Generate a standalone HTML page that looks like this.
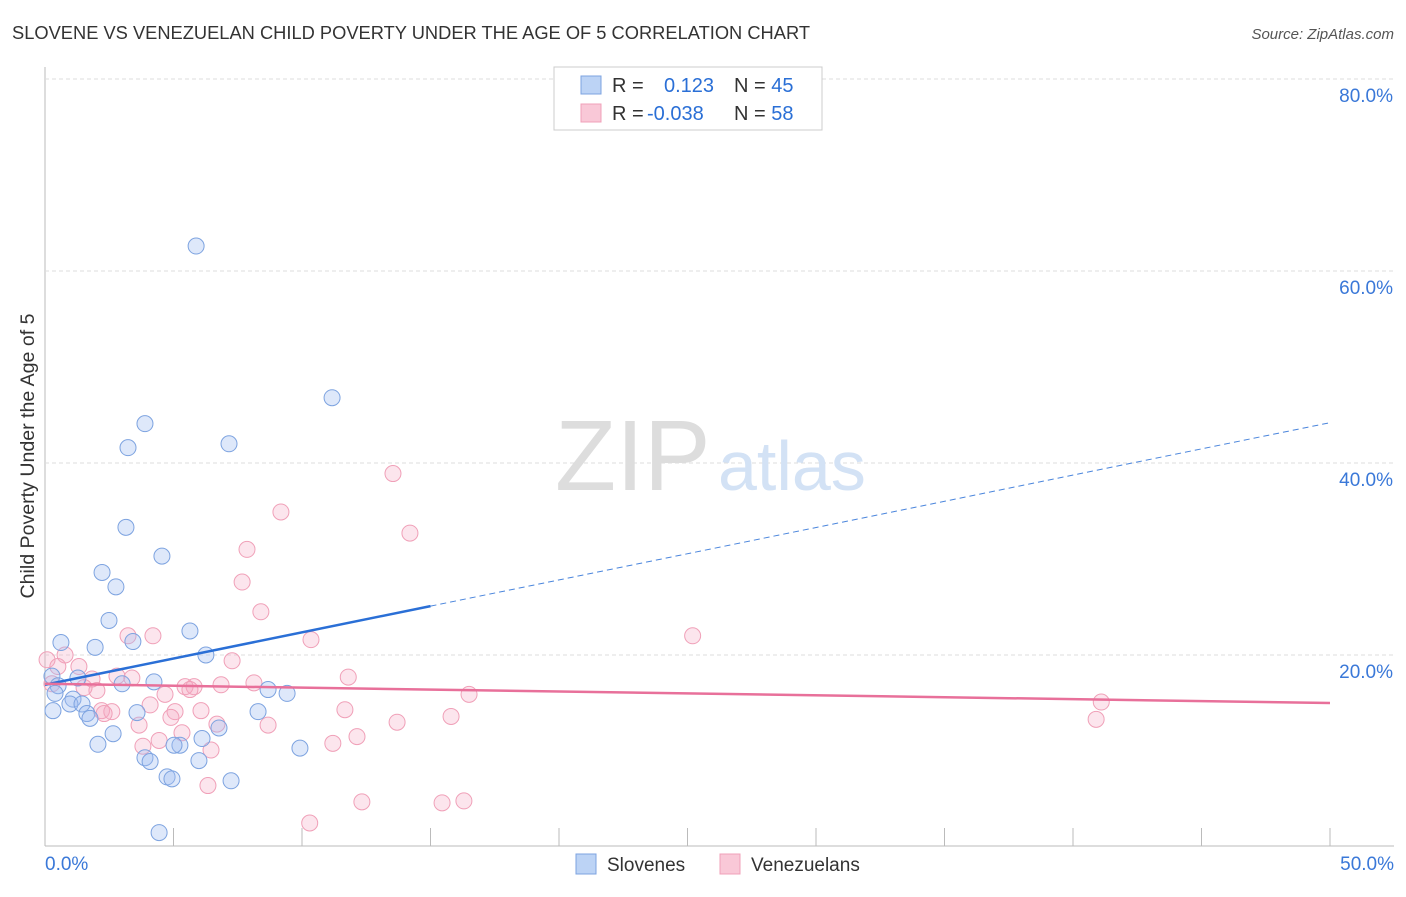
<!DOCTYPE html>
<html><head><meta charset="utf-8"><style>
body{margin:0;background:#fff;font-family:"Liberation Sans",sans-serif;}
svg text{font-family:"Liberation Sans",sans-serif;}
</style></head><body>
<svg id="c" width="1406" height="892" xmlns="http://www.w3.org/2000/svg">
<text x="12" y="39" font-size="18" fill="#333" textLength="798" lengthAdjust="spacingAndGlyphs">SLOVENE VS VENEZUELAN CHILD POVERTY UNDER THE AGE OF 5 CORRELATION CHART</text>
<text x="1394" y="39" font-size="15" fill="#555" text-anchor="end" font-style="italic">Source: ZipAtlas.com</text>
<text transform="translate(34,456) rotate(-90)" font-size="19" fill="#333" text-anchor="middle" textLength="285" lengthAdjust="spacingAndGlyphs">Child Poverty Under the Age of 5</text>
<g id="grid"></g>
<text x="555" y="490" font-size="100" fill="#ddd" font-family="Liberation Serif">ZIP</text>
<text x="718" y="490" font-size="70" fill="#d3e2f5">atlas</text>
<g id="pts"></g>
<g id="lines"></g>
<g>
<rect x="554" y="67" width="268" height="63" fill="#fff" stroke="#ccc"/>
<rect x="581" y="76" width="20" height="18" fill="#bcd3f5" stroke="#7da3e0"/>
<rect x="581" y="104" width="20" height="18" fill="#f9c8d7" stroke="#f0a0b8"/>
<text x="612" y="92" font-size="20" fill="#333">R = <tspan fill="#2a6fd6" x="664">0.123</tspan><tspan x="734" fill="#333">N = </tspan><tspan fill="#2a6fd6">45</tspan></text>
<text x="612" y="120" font-size="20" fill="#333">R = <tspan fill="#2a6fd6" x="647">-0.038</tspan><tspan x="734" fill="#333">N = </tspan><tspan fill="#2a6fd6">58</tspan></text>
</g>
<g>
<rect x="576" y="854" width="20" height="20" fill="#bcd3f5" stroke="#7da3e0"/>
<text x="607" y="871" font-size="19" fill="#333">Slovenes</text>
<rect x="720" y="854" width="20" height="20" fill="#f9c8d7" stroke="#f0a0b8"/>
<text x="751" y="871" font-size="19" fill="#333">Venezuelans</text>
</g>
</svg>
<script>
const yTicks=[20,40,60,80];
const xTickLabels=["0.0%","50.0%"];
const blueX=[5.88,11.17,3.89,3.23,7.16,3.15,4.55,2.22,2.76,2.49,5.64,3.42,0.62,1.95,6.26,0.27,1.28,3.0,4.24,0.51,0.39,8.68,9.42,1.09,0.97,1.44,0.31,8.29,3.58,1.63,1.75,2.65,6.77,6.11,2.06,5.25,5.02,9.92,3.89,4.09,5.99,4.75,4.94,7.24,4.44];
const blueY=[62.6,46.8,44.1,41.6,42.0,33.3,30.3,28.6,27.1,23.6,22.5,21.4,21.3,20.8,20.0,17.8,17.6,17.0,17.2,16.8,16.0,16.4,16.0,15.4,14.9,14.9,14.2,14.1,14.0,13.9,13.4,11.8,12.4,11.3,10.7,10.6,10.6,10.3,9.3,8.9,9.0,7.3,7.1,6.9,1.5];
const pinkX=[13.54,9.18,14.2,7.86,7.67,8.4,25.2,3.23,4.2,10.35,0.78,0.08,0.5,1.32,7.28,2.8,3.38,11.8,1.83,0.27,8.13,6.85,5.45,5.8,5.64,2.02,1.52,4.67,16.5,41.1,4.09,6.07,11.67,5.06,2.2,2.6,2.3,4.9,15.8,13.7,40.9,3.66,6.69,8.68,5.33,12.14,4.44,11.2,3.81,6.46,6.34,12.33,15.45,16.3,10.3];
const pinkY=[38.9,34.9,32.7,31.0,27.6,24.5,22.0,22.0,22.0,21.6,20.0,19.5,18.8,18.8,19.4,17.8,17.6,17.7,17.5,17.0,17.1,16.9,16.7,16.7,16.4,16.3,16.6,15.9,15.9,15.1,14.8,14.2,14.3,14.1,14.2,14.1,13.9,13.5,13.6,13.0,13.3,12.7,12.8,12.7,11.9,11.5,11.1,10.8,10.5,10.1,6.4,4.7,4.6,4.8,2.5];
const blueTrend=[16.9,44.2];
const pinkTrend=[17.0,15.0];
const X=v=>45+v/50*1285, Y=v=>847-v*9.6;
const NS="http://www.w3.org/2000/svg";
function mk(t,a,p){const e=document.createElementNS(NS,t);for(const k in a)e.setAttribute(k,a[k]);p.appendChild(e);return e;}
const g=document.getElementById('grid');
let ax=mk('line',{x1:45,y1:67,x2:45,y2:846,stroke:'#bbb'},g);


let bx=mk('line',{x1:45,y1:846,x2:1394,y2:846,stroke:'#bbb'},g);


for(let i=1;i<=10;i++){const l=mk('line',{x1:X(i*5),y1:828,x2:X(i*5),y2:846,stroke:'#bbb'},g);

}
yTicks.forEach(v=>{const l=mk('line',{x1:45,y1:Y(v),x2:1394,y2:Y(v),stroke:'#ddd','stroke-dasharray':'4,3'},g);


const t=mk('text',{x:1393,y:Y(v)+23,'font-size':19,fill:'#3a78d8','text-anchor':'end'},g);t.textContent=v.toFixed(1)+'%';

});
[[0,'start',45],[1,'end',1394]].forEach(([i,a,x])=>{const t=mk('text',{x:x,y:870,'font-size':19,fill:'#3a78d8','text-anchor':a},g);t.textContent=xTickLabels[i];

});
const p=document.getElementById('pts');
pinkX.forEach((x,i)=>{const c=mk('circle',{cx:X(x),cy:Y(pinkY[i]),r:8,fill:'rgba(245,170,195,0.3)',stroke:'#f0a0b8','stroke-width':1},p);

});
blueX.forEach((x,i)=>{const c=mk('circle',{cx:X(x),cy:Y(blueY[i]),r:8,fill:'rgba(160,190,240,0.35)',stroke:'#7da3e0','stroke-width':1},p);

});
const L=document.getElementById('lines');
const by=x=>blueTrend[0]+(blueTrend[1]-blueTrend[0])*x/50;
let b1=mk('line',{x1:X(0),y1:Y(by(0)),x2:X(15),y2:Y(by(15)),stroke:'#2a6fd6','stroke-width':2.5},L);


let b2=mk('line',{x1:X(15),y1:Y(by(15)),x2:X(50),y2:Y(by(50)),stroke:'#4a85dc','stroke-width':1,'stroke-dasharray':'6,4'},L);


let p1=mk('line',{x1:X(0),y1:Y(pinkTrend[0]),x2:X(50),y2:Y(pinkTrend[1]),stroke:'#e8709a','stroke-width':2.5},L);


</script>
</body></html>
